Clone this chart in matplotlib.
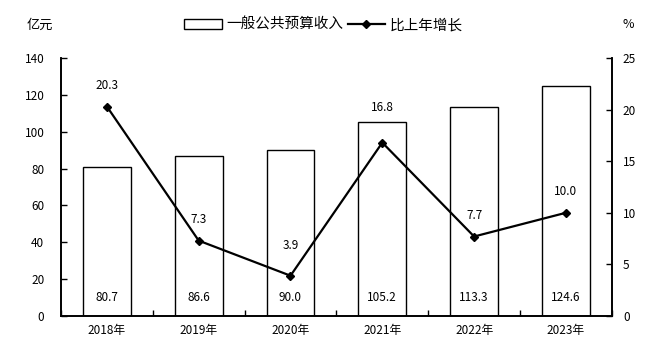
import numpy as np
import matplotlib
matplotlib.use('Agg')
import matplotlib.pyplot as plt

plt.rcParams['font.family'] = ['Noto Sans CJK SC', 'DejaVu Sans']

# data
years = ['2018年', '2019年', '2020年', '2021年', '2022年', '2023年']
revenue = [80.7, 86.6, 90.0, 105.2, 113.3, 124.6]
growth = [20.3, 7.3, 3.9, 16.8, 7.7, 10.0]
left_ticks = [0, 20, 40, 60, 80, 100, 120, 140]
right_ticks = [0, 5, 10, 15, 20, 25]

fig = plt.figure(figsize=(6.6, 3.57), dpi=100)
ax = fig.add_axes([0.0924, 0.115, 0.8346, 0.7225])
ax2 = ax.twinx()

x = np.arange(len(years))
bars = ax.bar(x, revenue, width=0.52, color='white', edgecolor='black',
              linewidth=1.0, label='一般公共预算收入', zorder=2)
for xi, v in zip(x, revenue):
    ax.text(xi, 10, f'{v:.1f}', ha='center', va='center', fontsize=8.5)

line, = ax2.plot(x, growth, color='black', linewidth=1.6, marker='D',
                 markersize=4, label='比上年增长')
# label offsets (points above the marker); a couple sit higher to clear the line/bar
lift = [15, 15, 22, 25, 15, 15]
for xi, g, d in zip(x, growth, lift):
    ax2.annotate(f'{g:.1f}', (xi, g), xytext=(0, d), textcoords='offset points',
                 ha='center', va='center', fontsize=8.5)

ax.set_xlim(-0.5, len(years) - 0.5)
ax.set_ylim(0, 140)
ax.set_yticks(left_ticks)
ax2.set_ylim(0, 25)
ax2.set_yticks(right_ticks)

ax.set_xticks(x)
ax.set_xticklabels(years, fontsize=8.5)
ax.set_xticks(np.arange(-0.5, len(years) + 0.5, 1), minor=True)
ax.tick_params(axis='x', which='major', length=0, pad=6)
ax.tick_params(axis='x', which='minor', direction='in', length=4, width=1)
ax.tick_params(axis='y', direction='in', length=4, width=1, labelsize=8.5, pad=12)
ax2.tick_params(axis='y', direction='in', length=4, width=1, labelsize=8.5, pad=8)

for a in (ax, ax2):
    a.spines['top'].set_visible(False)
    for s in ('left', 'right', 'bottom'):
        a.spines[s].set_linewidth(1.2)

fig.text(0.06, 0.93, '亿元', fontsize=9.5, ha='center', va='center')
fig.text(0.952, 0.93, '%', fontsize=9, ha='center', va='center')

fig.legend(handles=[bars, line], loc='center', bbox_to_anchor=(0.49, 0.93),
           ncol=2, frameon=False, fontsize=10.5, handlelength=2.6,
           columnspacing=0.3, handletextpad=0.3)

fig.savefig('out.png', dpi=100)
